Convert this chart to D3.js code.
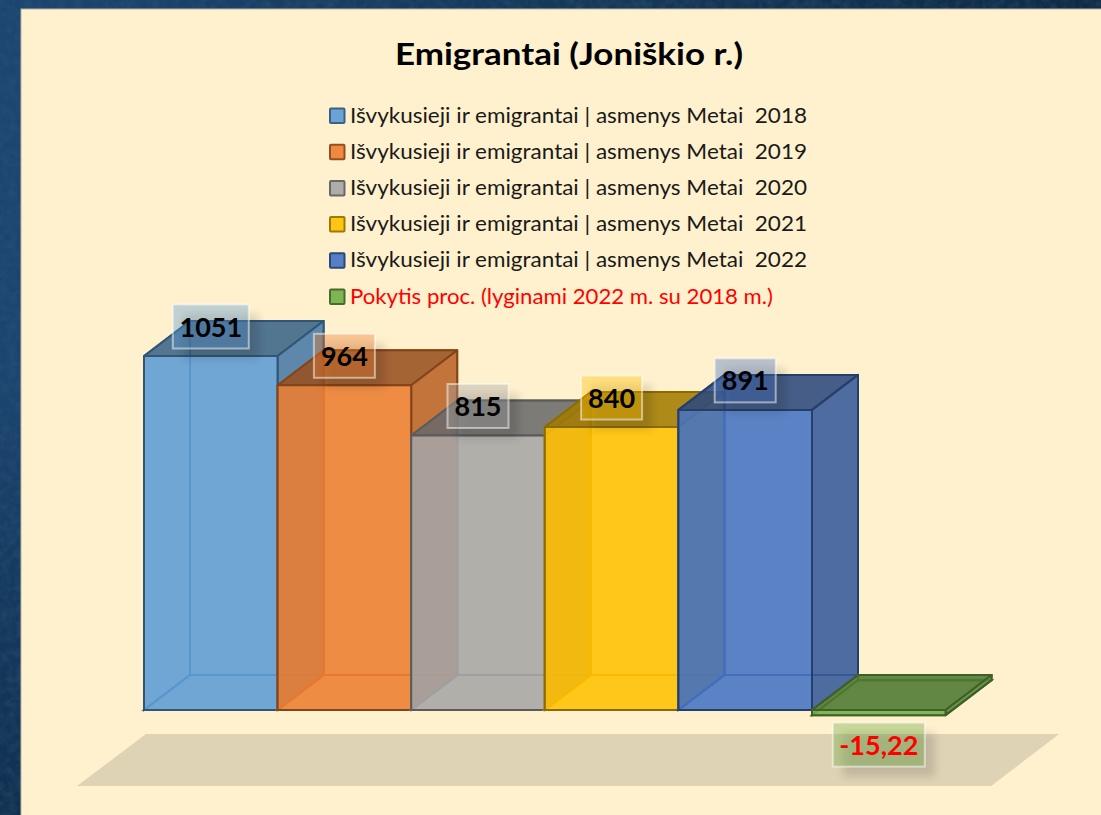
<!DOCTYPE html>
<html><head><meta charset="utf-8">
<script src="https://cdn.jsdelivr.net/npm/d3@7/dist/d3.min.js"></script>
<style>html,body{margin:0;padding:0;background:#16365a}svg{display:block}text{font-family:Lato,"Open Sans",sans-serif;white-space:pre}</style>
</head><body><svg id="c" width="1101" height="815"></svg>
<script>
const title = "Emigrantai (Joniškio r.)";
const categories = ["2018","2019","2020","2021","2022","Pokytis"];
const values = [1051,964,815,840,891,-15.22];
const valueLabels = ["1051","964","815","840","891","-15,22"];
const colors = ["#5b9bd5","#ed7d31","#a5a5a5","#ffc000","#4472c4","#70ad47"];
const legendLabels = [
 "Išvykusieji ir emigrantai | asmenys Metai  2018",
 "Išvykusieji ir emigrantai | asmenys Metai  2019",
 "Išvykusieji ir emigrantai | asmenys Metai  2020",
 "Išvykusieji ir emigrantai | asmenys Metai  2021",
 "Išvykusieji ir emigrantai | asmenys Metai  2022",
 "Pokytis proc. (lyginami 2022 m. su 2018 m.)"];

const W=1101,H=815,DX=46,DY=-35;
const svg=d3.select("#c");
const defs=svg.append("defs");
const bg=defs.append("linearGradient").attr("id","bg").attr("x1",0).attr("y1",0).attr("x2",0).attr("y2",1);
bg.append("stop").attr("offset",0).attr("stop-color","#1c4570");
bg.append("stop").attr("offset",.45).attr("stop-color","#1b4570");
bg.append("stop").attr("offset",1).attr("stop-color","#102f4e");
const tb=defs.append("linearGradient").attr("id","tb").attr("x1",0).attr("y1",0).attr("x2",1).attr("y2",0);
tb.append("stop").attr("offset",0).attr("stop-color","#1c4570");
tb.append("stop").attr("offset",.6).attr("stop-color","#143555");
tb.append("stop").attr("offset",1).attr("stop-color","#0e2a45");
const noise=defs.append("filter").attr("id","noise").attr("x",0).attr("y",0).attr("width","100%").attr("height","100%");
noise.append("feTurbulence").attr("type","fractalNoise").attr("baseFrequency",.12).attr("numOctaves",3).attr("seed",4);
noise.append("feColorMatrix").attr("values","0 0 0 0 0.03  0 0 0 0 0.1  0 0 0 0 0.2  1.6 0 0 0 -0.55");
const blur=defs.append("filter").attr("id","blur").attr("x","-30%").attr("y","-30%").attr("width","160%").attr("height","160%");
blur.append("feGaussianBlur").attr("stdDeviation",4);

svg.append("rect").attr("width",W).attr("height",H).attr("fill","url(#bg)");
svg.append("rect").attr("width",W).attr("height",10).attr("fill","url(#tb)");
svg.append("rect").attr("width",W).attr("height",H).attr("filter","url(#noise)").attr("opacity",.5);
svg.append("rect").attr("x",21).attr("y",9).attr("width",W).attr("height",H)
   .attr("fill","#fff1cd").attr("stroke","#b9b4a6").attr("stroke-width",1);

const x=d3.scaleBand().domain(categories).range([144,945.6]).padding(0);
const y=d3.scaleLinear().domain([0,1051]).range([710,356]);
const bw=x.bandwidth();

// floor shadow under the plot
svg.append("path").attr("fill","#dfd3b5")
  .attr("d",d3.line()([[x(categories[0])-67,786],[x.range()[1]+45.5,786],[x.range()[1]+113.5,734],[x(categories[0])+2,734]])+"Z");

svg.append("text").attr("x",569).attr("y",65).attr("text-anchor","middle")
   .attr("font-size",31).attr("font-weight",700).attr("fill","#000").attr("textLength",348).attr("lengthAdjust","spacingAndGlyphs").text(title);

// legend
const ly=d3.scalePoint().domain(legendLabels).range([116,297]);
const leg=svg.append("g").selectAll("g").data(legendLabels).join("g")
   .attr("transform",d=>`translate(0,${ly(d)})`);
leg.append("rect").attr("x",330).attr("y",-7.5).attr("width",14.5).attr("height",14.5).attr("rx",1)
   .attr("fill",(d,i)=>d3.color(colors[i]).copy({opacity:.9})).attr("stroke",(d,i)=>d3.color(colors[i]).darker(1.3)).attr("stroke-width",2);
leg.append("text").attr("x",350).attr("y",6.5).attr("font-size",21)
   .attr("fill",(d,i)=>i===5?"#ff0000":"#1a1a1a")
   .attr("textLength",(d,i)=>i===5?423:457).attr("lengthAdjust","spacingAndGlyphs").text(d=>d);

// 3D boxes
const data=categories.map((c,i)=>({c,v:values[i],col:colors[i],label:valueLabels[i]}));
const poly=pts=>d3.line()(pts)+"Z";
function faces(d){
  const x0=x(d.c),x1=x0+bw,yt=y(Math.max(d.v,0)),yb=y(Math.min(d.v,0));
  return {
    back:poly([[x0+DX,yt+DY],[x1+DX,yt+DY],[x1+DX,yb+DY],[x0+DX,yb+DY]]),
    left:poly([[x0,yt],[x0+DX,yt+DY],[x0+DX,yb+DY],[x0,yb]]),
    floor:poly([[x0,yb],[x1,yb],[x1+DX,yb+DY],[x0+DX,yb+DY]]),
    top:poly([[x0,yt],[x1,yt],[x1+DX,yt+DY],[x0+DX,yt+DY]]),
    right:poly([[x1,yt],[x1+DX,yt+DY],[x1+DX,yb+DY],[x1,yb]]),
    front:poly([[x0,yt],[x1,yt],[x1,yb],[x0,yb]])
  };
}
const shade=(c,k)=>{const r=d3.rgb(c);return d3.rgb(r.r*k,r.g*k,r.b*k).formatHex();};
const boxes=svg.append("g").selectAll("g").data(data).join("g");
boxes.each(function(d){
  const g=d3.select(this),f=faces(d),edge=shade(d.col,.55);
  const isFlat=d.v<0;
  ["back","left","floor"].forEach(k=>{
    g.append("path").attr("d",f[k]).attr("fill","none")
     .attr("stroke",shade(d.col,.72)).attr("stroke-width",2);
  });
  g.append("path").attr("d",f.top).attr("fill",shade(d.col,isFlat?.68:.64)).attr("fill-opacity",.88)
   .attr("stroke",edge).attr("stroke-width",2).attr("stroke-linejoin","round");
  g.append("path").attr("d",f.right).attr("fill",shade(d.col,.78)).attr("fill-opacity",.88)
   .attr("stroke",edge).attr("stroke-width",2).attr("stroke-linejoin","round");
  g.append("path").attr("d",f.front).attr("fill",d.col).attr("fill-opacity",.88)
   .attr("stroke",edge).attr("stroke-width",2).attr("stroke-linejoin","round");
});

// value labels
const lw=d=>d.label.length>=6?92:(d.label.length===4?76:61);
const lcy=d=>d.v<0?y(d.v)+29.5:y(d.v)-29.5;
const labels=svg.append("g").selectAll("g").data(data).join("g")
  .attr("transform",d=>`translate(${x(d.c)+bw/2},${lcy(d)})`);
labels.append("rect").attr("x",d=>-lw(d)/2+10).attr("y",-22+10).attr("width",lw).attr("height",44)
  .attr("fill","#000").attr("opacity",.13).attr("filter","url(#blur)");
labels.append("rect").attr("x",d=>-lw(d)/2).attr("y",-22).attr("width",lw).attr("height",44)
  .attr("fill",d=>d.col).attr("fill-opacity",.38).attr("stroke","#fff").attr("stroke-opacity",.5).attr("stroke-width",2);
labels.append("text").attr("text-anchor","middle").attr("y",10).attr("font-size",27).attr("font-weight",700)
  .attr("fill",d=>d.v<0?"#ff0000":"#000").text(d=>d.label);
</script></body></html>
